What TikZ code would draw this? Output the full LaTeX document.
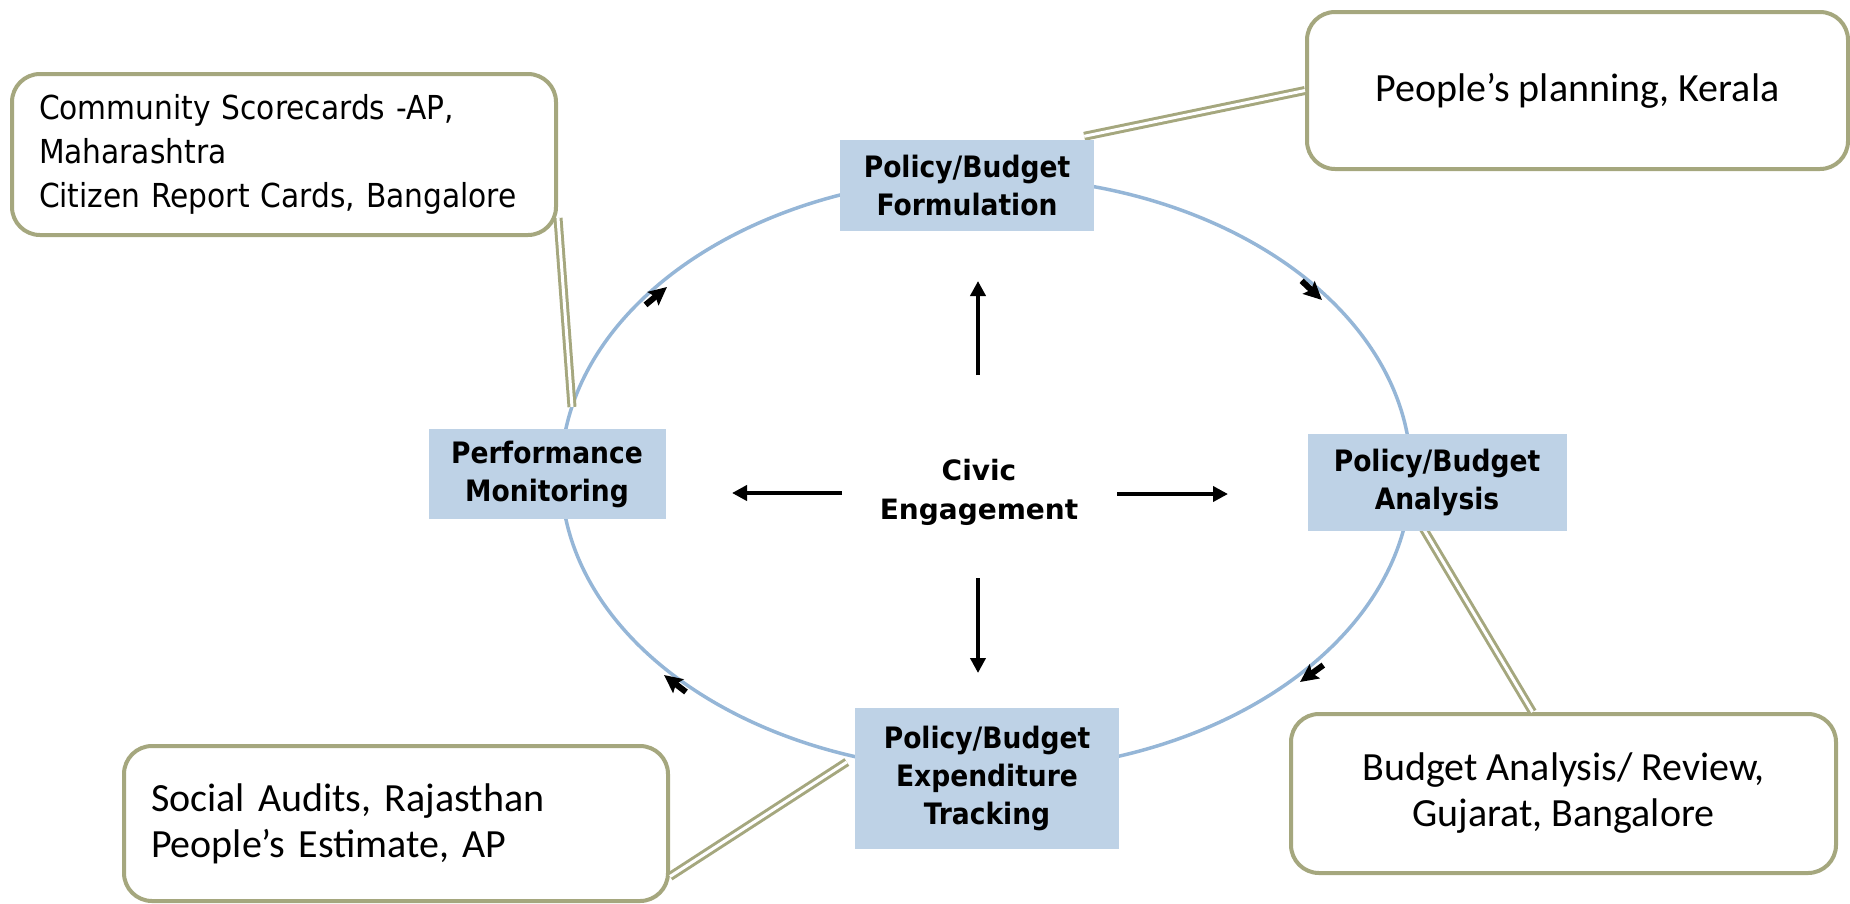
\documentclass[tikz,border=0pt]{standalone}
\usepackage{fontspec}
\setmainfont{DejaVu Sans}
\newfontfamily\condfont{DejaVu Sans Condensed}
\newfontfamily\civfont{DejaVu Sans}
\newfontfamily\callfont{Carlito}
\usetikzlibrary{arrows.meta}
\definecolor{boxblue}{HTML}{BED2E6}
\definecolor{ringblue}{HTML}{95B6D7}
\definecolor{calloutolive}{HTML}{A5A77E}
\begin{document}
\begin{tikzpicture}[x=1pt,y=-1pt,
  stage/.style={fill=boxblue, draw=none, align=center, inner sep=0pt,
    font=\condfont\bfseries\fontsize{29.5}{38}\selectfont},
  civicstyle/.style={align=center, inner sep=0pt,
    font=\civfont\bfseries\fontsize{28}{39}\selectfont},
  callout/.style={draw=calloutolive, line width=4pt, rounded corners=28pt, fill=white,
    inner ysep=0pt, inner xsep=27pt},
  tlfont/.style={font=\condfont\fontsize{33}{44}\selectfont},
  cfont/.style={font=\callfont\fontsize{40}{46}\selectfont},
  link/.style={draw=calloutolive, line width=3pt, double=white, double distance=3pt},
  ringarrow/.style={line width=6pt, -{Stealth[length=18pt,width=17pt,inset=3pt]}},
  midarrow/.style={line width=4pt, -{Triangle[length=15pt,width=15pt]}}
]
\useasboundingbox (0,0) rectangle (1850,903);

% cycle ring
\draw[ringblue, line width=3.5pt] (986,474) ellipse [x radius=425pt, y radius=297pt];

% stage boxes
\node[stage, minimum width=254pt, minimum height=91pt] (form) at (967,185) {Policy/Budget\\Formulation};
\node[stage, minimum width=237pt, minimum height=90pt] (pm) at (547,474) {Performance\\Monitoring};
\node[stage, minimum width=259pt, minimum height=97pt] (an) at (1437,482) {Policy/Budget\\Analysis};
\node[stage, minimum width=264pt, minimum height=141pt] (ex) at (987,778) {Policy/Budget\\Expenditure\\Tracking};
\node[civicstyle] (civ) at (979,492) {Civic\\Engagement};

% callouts
\node[callout, tlfont, align=left, minimum width=544pt, minimum height=161pt, text width=490pt] (tl) at (284,154.5)
  {Community Scorecards -AP,\\Maharashtra\\Citizen Report Cards, Bangalore};
\node[callout, cfont, align=center, minimum width=541pt, minimum height=157pt] (tr) at (1577.5,90.5)
  {People’s planning, Kerala};
\node[callout, cfont, align=left, minimum width=544pt, minimum height=155pt, text width=490pt] (bl) at (396,823.5)
  {Social Audits, Rajasthan\\People’s Estimate, AP};
\node[callout, cfont, align=center, minimum width=545pt, minimum height=159pt] (br) at (1563.5,793.5)
  {Budget Analysis/ Review,\\Gujarat, Bangalore};

% connectors between callouts and stages
\coordinate (tlend) at (572,407);
\draw[link] ([xshift=-10pt,yshift=3pt]form.north east) -- (tr.west);
\draw[link] ([yshift=19pt]tl.south east) -- (tlend);
\draw[link] ([xshift=-16pt,yshift=6pt]an.south) -- ([xshift=-31pt]br.north);
\draw[link] ([xshift=-8pt,yshift=16pt]ex.west) -- ([yshift=-53pt]bl.east);

% redraw boxes on top of connector ends
\node[stage, minimum width=254pt, minimum height=91pt] at (form) {Policy/Budget\\Formulation};
\node[stage, minimum width=259pt, minimum height=97pt] at (an) {Policy/Budget\\Analysis};

% arrowheads on the ring (clockwise flow)
\coordinate (r1s) at (1301.6,280.8); \coordinate (r1e) at (1322,300);
\coordinate (r2s) at (1323.3,665.1); \coordinate (r2e) at (1300,682);
\coordinate (r3s) at (686,692);      \coordinate (r3e) at (664,675);
\coordinate (r4s) at (645.5,304.9);  \coordinate (r4e) at (667,287);
\draw[ringarrow] (r1s) -- (r1e);
\draw[ringarrow] (r2s) -- (r2e);
\draw[ringarrow] (r3s) -- (r3e);
\draw[ringarrow] (r4s) -- (r4e);

% arrows out of civic engagement
\coordinate (upS) at (978,375);  \coordinate (upE) at (978,281);
\coordinate (dnS) at (978,578);  \coordinate (dnE) at (978,673);
\coordinate (lfS) at (842,493);  \coordinate (lfE) at (732,493);
\coordinate (rtS) at (1117,494); \coordinate (rtE) at (1228,494);
\draw[midarrow] (upS) -- (upE);
\draw[midarrow] (dnS) -- (dnE);
\draw[midarrow] (lfS) -- (lfE);
\draw[midarrow] (rtS) -- (rtE);
\end{tikzpicture}
\end{document}
